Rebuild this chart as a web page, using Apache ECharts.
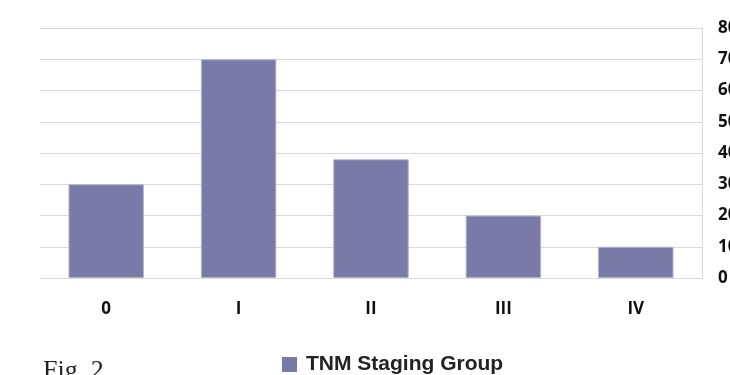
<!DOCTYPE html>
<html><head><meta charset="utf-8">
<script src="https://cdn.jsdelivr.net/npm/echarts@6/dist/echarts.min.js"></script>
<style>html,body{margin:0;padding:0;background:#fff}#c{width:730px;height:375px}</style>
</head><body><div id="c"></div>
<script>
const categories = ['0', 'I', 'II', 'III', 'IV'];
const values = [30, 70, 38, 20, 10];
const seriesName = 'TNM Staging Group';
const chart = echarts.init(document.getElementById('c'), null, {renderer: 'canvas'});
chart.setOption({
  animation: false,
  grid: {left: 40, right: 28, top: 28, bottom: 97, outerBoundsMode: 'none', containLabel: false},
  legend: {
    data: [seriesName], top: 349, left: 277, itemWidth: 15, itemHeight: 15, itemGap: 10,
    icon: 'rect',
    itemStyle: {borderWidth: 0},
    textStyle: {fontFamily: 'Liberation Sans', fontWeight: 'bold', fontSize: 21, color: '#222', padding: [0, 0, 0, 4]}
  },
  xAxis: {
    type: 'category', data: categories,
    axisLine: {show: false}, axisTick: {show: false},
    axisLabel: {margin: 23, fontFamily: 'Open Sans', fontWeight: 'bold', fontSize: 17, color: '#111'}
  },
  yAxis: {
    type: 'value', position: 'right', min: 0, max: 80, interval: 10,
    axisLine: {show: true, lineStyle: {color: '#d9d9d9'}}, axisTick: {show: false},
    splitLine: {lineStyle: {color: '#d9d9d9'}},
    axisLabel: {margin: 16, fontFamily: 'Open Sans', fontWeight: 'bold', fontSize: 17, color: '#111'}
  },
  graphic: [{type: 'text', left: 43, top: 358, style: {text: 'Fig. 2', font: '26px "Liberation Serif"', fill: '#222'}}],
  series: [{
    name: seriesName, type: 'bar', data: values, barWidth: '57%',
    itemStyle: {color: '#797aa7', borderColor: '#b4b4cf', borderWidth: 1}
  }]
});
</script></body></html>
